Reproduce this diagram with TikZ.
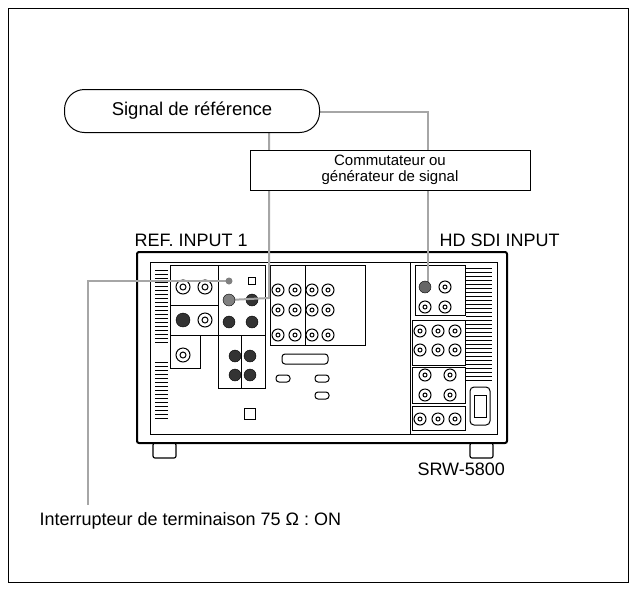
\documentclass[tikz,border=0pt]{standalone}
\usepackage{fontspec}
\setmainfont{Liberation Sans}
\begin{document}
\begin{tikzpicture}[x=1pt,y=-1pt,
  cable/.style={gray!70,line width=2pt},
  panel/.style={draw,line width=0.6pt},
  bnc/.style={draw,line width=1pt,fill=white},
  plug/.style={draw,fill=black!80},
  lbl/.style={anchor=west,font=\fontsize{18}{20}\selectfont}]
\useasboundingbox (0,0) rectangle (637,590);
\draw[line width=0.6pt] (8,8) rectangle (628,582);

% device
\draw[line width=2pt,rounded corners=2pt] (137,252) rectangle (507,443);
\draw[line width=1pt] (150,262) rectangle (497,434);
\draw[line width=1pt] (410,262) -- (410,434);
\foreach \x in {153,470}
  \draw[line width=1.2pt,rounded corners=2pt] (\x,443) rectangle ++(23,15);
\foreach \y in {270,274,...,344} \draw (155,\y) -- (168,\y);
\foreach \y in {362,366,...,420} \draw (155,\y) -- (168,\y);
\foreach \y in {268,272,...,380} \draw (466,\y) -- (492,\y);

\draw[panel] (170,265) rectangle (218,335);
\draw[panel] (170,305) -- (218,305);
\draw[panel] (170,335) rectangle (200,368);
\foreach \p in {(183,287),(205,287),(205,320),(183,355)}
  \draw[bnc] \p circle (7) circle (3);
\draw[plug] (183,320) circle (7);
\draw[panel] (218,265) rectangle (265,335);
\draw[panel] (218,335) rectangle (265,388);
\draw[panel] (241,335) -- (241,388);
\draw[panel] (270,265) rectangle (365,345);
\draw[panel] (305,265) -- (305,345);
\draw (248,277) rectangle (255,284);
\foreach \p in {(252,300),(229,322),(252,322),(235,356),(250,356),(235,375),(250,375)}
  \draw[plug] \p circle (6);
\foreach \x in {278,295,312,328}
  \foreach \y in {290,310,335}
    \draw[bnc] (\x,\y) circle (6) circle (2);
\draw[line width=1pt,rounded corners=3pt] (282,354) rectangle (328,364);
\draw[line width=1pt,rounded corners=3pt] (276,375) rectangle (290,382);
\draw[line width=1pt,rounded corners=3pt] (315,375) rectangle (329,382);
\draw[line width=1pt,rounded corners=3pt] (315,392) rectangle (329,399);
\draw[line width=1pt] (244,408) rectangle (255,419);

\draw[panel] (415,265) rectangle (465,315);
\draw[panel] (412,320) rectangle (465,365);
\draw[panel] (412,367) rectangle (465,403);
\draw[panel] (412,406) rectangle (465,430);
\foreach \p in {(445,287),(425,307),(445,307),(425,375),(450,375),(425,395),(450,395)}
  \draw[bnc] \p circle (6) circle (2);
\foreach \x in {420,438,455} {
  \foreach \y in {331,350} \draw[bnc] (\x,\y) circle (6) circle (2);
  \draw[bnc] (\x,419) circle (6) circle (2);
}
\draw[line width=1pt,rounded corners=4pt] (470,387) rectangle (490,425);
\draw (474,395) rectangle (486,417);

% cables
\draw[cable] (320,112) -- (428,112) -- (428,287);
\draw[cable] (269,130) -- (269,298) -- (229,300);
\draw[cable] (229,281) -- (88,281) -- (88,505);
\fill[gray] (229,281) circle (3.5);
\draw[fill=gray] (229,300) circle (6);
\draw[fill=gray!80!black] (425,287) circle (6);

% labels
\node[draw,line width=1pt,rounded corners=20pt,minimum width=255pt,minimum height=43pt,fill=white,font=\fontsize{18.5}{20}\selectfont] (ref) at (192,111) {Signal de référence};
\node[draw,line width=1pt,minimum width=280pt,minimum height=40pt,fill=white,align=center,font=\fontsize{15}{16}\selectfont] (gen) at (390,170) {Commutateur ou\\générateur de signal};
\node[lbl] (refin) at (131,240) {REF. INPUT 1};
\node[lbl] (hdsdi) at (436,240) {HD SDI INPUT};
\node[lbl] (model) at (414,469) {SRW-5800};
\node[lbl] (term) at (36,521) {Interrupteur de terminaison 75 Ω : ON};
\end{tikzpicture}
\end{document}
